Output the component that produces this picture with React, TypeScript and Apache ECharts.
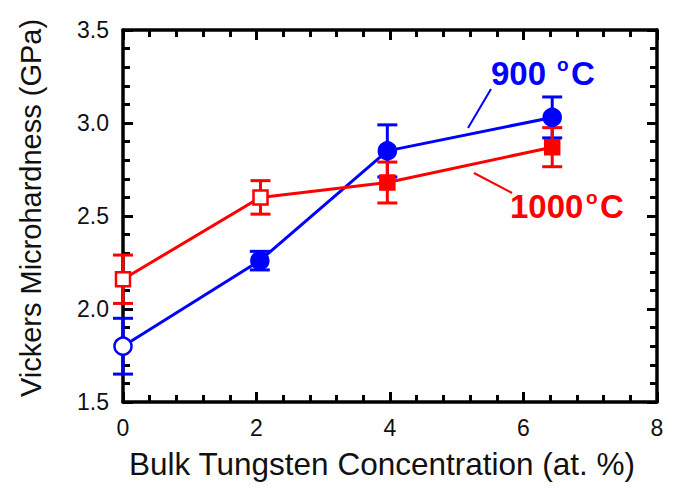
import React, { useEffect, useRef } from "react";
import * as echarts from "echarts";

const blueX = [0, 2.05, 3.96, 6.43];
const blueY = [1.8, 2.26, 2.85, 3.03];
const blueErr = [0.15, 0.05, 0.14, 0.11];
const blueOpen = [true, false, false, false];

const redX = [0, 2.06, 3.96, 6.43];
const redY = [2.16, 2.6, 2.68, 2.87];
const redErr = [0.13, 0.09, 0.11, 0.105];
const redOpen = [true, true, false, false];

const xTicks = { min: 0, max: 8, interval: 2, minorDiv: 5 };
const yTicks = { min: 1.5, max: 3.5, interval: 0.5, minorDiv: 5 };

const BLUE = "#0000ff";
const RED = "#ff0000";
const FONT = "Liberation Sans, Arial, sans-serif";

function makeAxis(kind: "x" | "y", pos: string, showLabel: boolean, extra: any) {
  const t = kind === "x" ? xTicks : yTicks;
  return {
    type: "value",
    position: pos,
    min: t.min,
    max: t.max,
    interval: t.interval,
    axisLine: { show: true, onZero: false, lineStyle: { color: "#000", width: 3.5 } },
    axisTick: { show: true, inside: true, length: 10, lineStyle: { color: "#000", width: 3 } },
    minorTick: { show: true, splitNumber: t.minorDiv, length: 7, lineStyle: { color: "#000", width: 3 } },
    splitLine: { show: false },
    minorSplitLine: { show: false },
    axisLabel: {
      show: showLabel,
      fontSize: 23,
      color: "#111",
      fontFamily: FONT,
      margin: 14,
      formatter: kind === "y" ? (v: number) => v.toFixed(1) : (v: number) => String(v),
    },
    ...extra,
  };
}

function errorSeries(xs: number[], ys: number[], es: number[], color: string) {
  return {
    type: "custom",
    xAxisIndex: 0,
    yAxisIndex: 0,
    z: 3,
    data: xs.map((x, i) => [x, ys[i], es[i]]),
    renderItem: (params: any, api: any) => {
      const x = api.value(0);
      const y = api.value(1);
      const e = api.value(2);
      const top = api.coord([x, y + e]);
      const bot = api.coord([x, y - e]);
      const hw = 10;
      const style = { stroke: color, lineWidth: 3 };
      return {
        type: "group",
        children: [
          { type: "line", shape: { x1: top[0], y1: top[1], x2: bot[0], y2: bot[1] }, style },
          { type: "line", shape: { x1: top[0] - hw, y1: top[1], x2: top[0] + hw, y2: top[1] }, style },
          { type: "line", shape: { x1: bot[0] - hw, y1: bot[1], x2: bot[0] + hw, y2: bot[1] }, style },
        ],
      };
    },
  };
}

function lineSeries(xs: number[], ys: number[], open: boolean[], color: string, symbol: string, size: number) {
  return {
    type: "line",
    xAxisIndex: 0,
    yAxisIndex: 0,
    z: 3,
    symbol,
    symbolSize: size,
    lineStyle: { color, width: 3 },
    data: xs.map((x, i) => ({
      value: [x, ys[i]],
      itemStyle: { color: open[i] ? "#ffffff" : color, borderColor: color, borderWidth: 2.5 },
    })),
  };
}

export default function App() {
  const ref = useRef<HTMLDivElement>(null);
  useEffect(() => {
    document.body.style.margin = "0";
    if (!ref.current) return;
    const chart = echarts.init(ref.current, undefined, { renderer: "svg" });
    const nameStyle = { fontSize: 29, color: "#111", fontFamily: FONT };
    chart.setOption({
      animation: false,
      backgroundColor: "#ffffff",
      grid: { left: 123, right: 19, top: 30, bottom: 90 },
      xAxis: [
        makeAxis("x", "bottom", true, {
          name: "Bulk Tungsten Concentration (at. %)",
          nameLocation: "middle",
          nameGap: 46,
          nameTextStyle: { ...nameStyle, fontSize: 31.5, padding: [0, 16, 0, 0] },
        }),
        makeAxis("x", "top", false, {}),
      ],
      yAxis: [
        makeAxis("y", "left", true, {
          name: "Vickers Microhardness (GPa)",
          nameLocation: "middle",
          nameGap: 78,
          nameTextStyle: { ...nameStyle, padding: [0, 0, 0, 16] },
        }),
        makeAxis("y", "right", false, {}),
      ],
      series: [
        errorSeries(blueX, blueY, blueErr, BLUE),
        lineSeries(blueX, blueY, blueOpen, BLUE, "circle", 17),
        errorSeries(redX, redY, redErr, RED),
        lineSeries(redX, redY, redOpen, RED, "rect", 14),
      ],
      graphic: [
        { type: "line", shape: { x1: 491, y1: 89, x2: 468, y2: 128 }, style: { stroke: BLUE, lineWidth: 2 } },
        { type: "line", shape: { x1: 474, y1: 173, x2: 512, y2: 193 }, style: { stroke: RED, lineWidth: 2 } },
        { type: "text", x: 491, y: 73, style: { text: "900", fill: BLUE, font: "bold 33px " + FONT, textVerticalAlign: "middle" } },
        { type: "text", x: 557, y: 64, style: { text: "o", fill: BLUE, font: "bold 19px " + FONT, textVerticalAlign: "middle" } },
        { type: "text", x: 571, y: 73, style: { text: "C", fill: BLUE, font: "bold 33px " + FONT, textVerticalAlign: "middle" } },
        { type: "text", x: 510, y: 206, style: { text: "1000", fill: RED, font: "bold 33px " + FONT, textVerticalAlign: "middle" } },
        { type: "text", x: 586, y: 197, style: { text: "o", fill: RED, font: "bold 19px " + FONT, textVerticalAlign: "middle" } },
        { type: "text", x: 600, y: 206, style: { text: "C", fill: RED, font: "bold 33px " + FONT, textVerticalAlign: "middle" } },
      ],
    });
    return () => chart.dispose();
  }, []);
  return <div ref={ref} style={{ width: 676, height: 492 }} />;
}
